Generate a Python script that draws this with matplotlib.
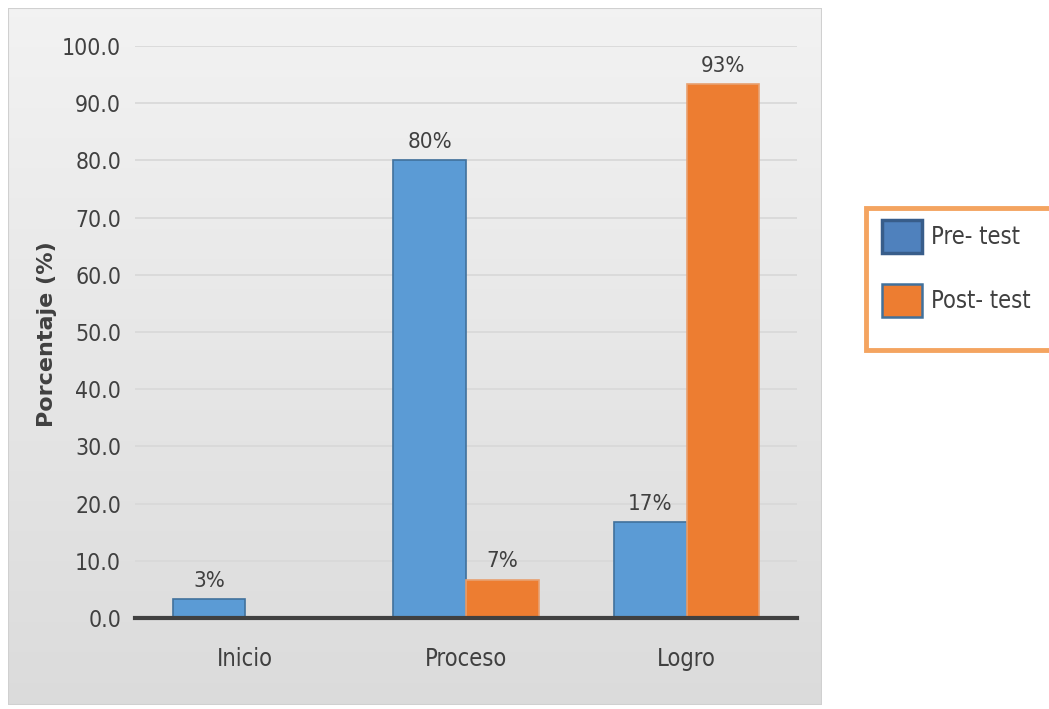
import numpy as np
import matplotlib.pyplot as plt
from matplotlib.patches import Rectangle

# datos del gráfico
categorias = ['Inicio', 'Proceso', 'Logro']
pre_test = [3.3, 80.0, 16.7]
post_test = [0.0, 6.7, 93.3]
etiquetas_pre = ['3%', '80%', '17%']
etiquetas_post = ['', '7%', '93%']
ticks_y = [0, 10, 20, 30, 40, 50, 60, 70, 80, 90, 100]
series = ['Pre- test', 'Post- test']

azul = '#5b9bd5'
naranja = '#ed7d31'
gris_txt = '#404040'
estilo = dict(family='DejaVu Sans', stretch='condensed', color=gris_txt)

fig = plt.figure(figsize=(10.49, 7.09), dpi=100)
fig.patch.set_facecolor('white')

# panel gris con degradado detras del grafico
fondo = fig.add_axes([8 / 1049, 4 / 709, 814 / 1049, 697 / 709], zorder=0)
grad = np.linspace(0.95, 0.86, 256).reshape(-1, 1)
fondo.imshow(np.dstack([grad, grad, grad]), aspect='auto', extent=[0, 1, 0, 1])
fondo.set_xlim(0, 1)
fondo.set_ylim(0, 1)
fondo.axis('off')
fondo.add_patch(Rectangle((0, 0), 1, 1, fill=False, edgecolor='#d0d0d0', lw=1.5,
                          transform=fondo.transAxes))

ax = fig.add_axes([135 / 1049, 91 / 709, 662 / 1049, 572 / 709], zorder=1)
ax.patch.set_alpha(0)

x = np.arange(len(categorias))
ancho = 0.33
b1 = ax.bar(x - ancho / 2, pre_test, ancho, color=azul, edgecolor='#41719c', linewidth=1.2, zorder=3)
b2 = ax.bar(x + ancho / 2, post_test, ancho, color=naranja, edgecolor='#e8a070', linewidth=1.2, zorder=3)

for barras, etiquetas in [(b1, etiquetas_pre), (b2, etiquetas_post)]:
    for barra, txt in zip(barras, etiquetas):
        if txt:
            ax.text(barra.get_x() + barra.get_width() / 2, barra.get_height() + 1.5, txt,
                    ha='center', va='bottom', fontsize=16, **estilo)

ax.set_xlim(-0.5, 2.5)
ax.set_ylim(0, 100)
ax.set_yticks(ticks_y)
ax.set_yticklabels([f'{v:.1f}' for v in ticks_y], fontsize=16.5, **estilo)
ax.set_xticks(x)
ax.set_xticklabels(categorias, fontsize=17, **estilo)
ax.tick_params(axis='both', length=0)
ax.tick_params(axis='y', pad=10)
ax.tick_params(axis='x', pad=21)
ax.grid(axis='y', color='#d9d9d9', linewidth=1.3, zorder=0)
for lado in ['top', 'right', 'left']:
    ax.spines[lado].set_visible(False)
ax.spines['bottom'].set_color(gris_txt)
ax.spines['bottom'].set_linewidth(3)
ax.spines['bottom'].set_zorder(4)

fig.text(47 / 1049, 1 - 334 / 709, 'Porcentaje (%)', rotation=90, ha='center', va='center',
         fontsize=16, fontweight='bold', color=gris_txt, family='DejaVu Sans')

# leyenda dibujada a mano con marco naranja
W, H = 1049, 709
fig.add_artist(Rectangle((866 / W, 1 - 350 / H), 190 / W, 142 / H, transform=fig.transFigure,
                         facecolor='white', edgecolor='#f4a460', linewidth=3.5, zorder=5))
muestras = [('#4f81bd', '#385d8a', 2.5, 220), (naranja, '#41719c', 1.8, 284)]
for (cara, borde, grosor, ytop), nombre in zip(muestras, series):
    fig.add_artist(Rectangle((882 / W, 1 - (ytop + 33) / H), 40 / W, 33 / H, transform=fig.transFigure,
                             facecolor=cara, edgecolor=borde, linewidth=grosor, zorder=6))
    fig.text(931 / W, 1 - (ytop + 17) / H, nombre, ha='left', va='center', fontsize=17,
             zorder=7, **estilo)

fig.savefig('out.png', dpi=100)
